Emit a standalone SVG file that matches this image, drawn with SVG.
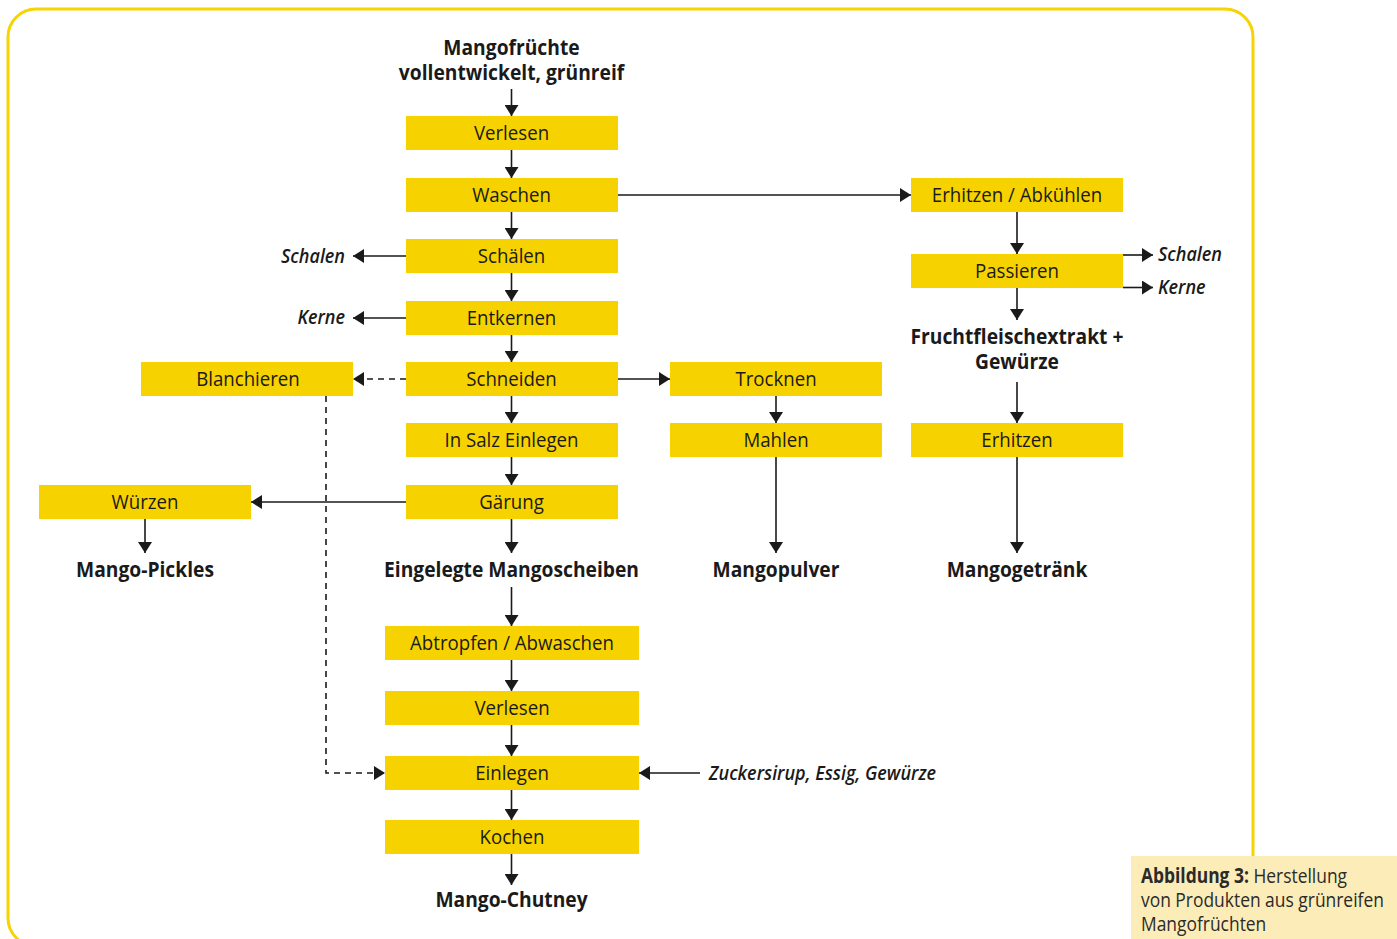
<svg xmlns="http://www.w3.org/2000/svg" width="1397" height="939" viewBox="0 0 1397 939">
  <defs>
    <style>
      .box { fill: #f6d200; }
      text { transform-box: fill-box; }
      .lbl { font-family: "Open Sans", "Liberation Sans", sans-serif; font-size: 20.5px; font-weight: 500; fill: #1a1a1a; text-anchor: middle; transform-origin: center; transform: scaleX(0.91); }
      .prod { font-family: "Open Sans", "Liberation Sans", sans-serif; font-size: 21.5px; font-weight: 700; fill: #1a1a1a; text-anchor: middle; transform-origin: center; transform: scaleX(0.895); }
      .side { font-family: "Open Sans", "Liberation Sans", sans-serif; font-size: 20.5px; font-weight: 600; font-style: italic; fill: #1a1a1a; transform-origin: left center; transform: scaleX(0.88); }
      .side.end { text-anchor: end; transform-origin: right center; }
      .cap { font-family: "Open Sans", "Liberation Sans", sans-serif; font-size: 20.5px; fill: #2a2a2a; transform-origin: left center; transform: scaleX(0.85); }
      .ln { stroke: #1a1a1a; stroke-width: 1.6; fill: none; }
      .dash { stroke-dasharray: 6 5; }
    </style>
    <marker id="arr" viewBox="0 0 11 14" refX="11" refY="7" markerWidth="11" markerHeight="14" markerUnits="userSpaceOnUse" orient="auto">
      <path d="M0,0 L11,7 L0,14 Z" fill="#1a1a1a"/>
    </marker>
  </defs>

  <!-- outer frame -->
  <rect x="8" y="9" width="1245" height="937" rx="28" ry="28" fill="#ffffff" stroke="#f7d300" stroke-width="3"/>

  <!-- connectors -->
  <g id="connectors" class="ln" marker-end="url(#arr)">
    <line x1="511.5" y1="89" x2="511.5" y2="116"/>
    <line x1="511.5" y1="150" x2="511.5" y2="178"/>
    <line x1="511.5" y1="212" x2="511.5" y2="239"/>
    <line x1="511.5" y1="273" x2="511.5" y2="301"/>
    <line x1="511.5" y1="335" x2="511.5" y2="362"/>
    <line x1="511.5" y1="396" x2="511.5" y2="423"/>
    <line x1="511.5" y1="457" x2="511.5" y2="485"/>
    <line x1="511.5" y1="519" x2="511.5" y2="553"/>
    <line x1="511.5" y1="587" x2="511.5" y2="626"/>
    <line x1="511.5" y1="660" x2="511.5" y2="691"/>
    <line x1="511.5" y1="725" x2="511.5" y2="756"/>
    <line x1="511.5" y1="790" x2="511.5" y2="820"/>
    <line x1="511.5" y1="854" x2="511.5" y2="885"/>
    <line x1="618" y1="195" x2="911" y2="195"/>
    <line x1="406" y1="256" x2="353" y2="256"/>
    <line x1="406" y1="318" x2="353" y2="318"/>
    <line x1="406" y1="379" x2="353" y2="379" class="ln dash"/>
    <line x1="618" y1="379" x2="670" y2="379"/>
    <polyline points="326,396 326,773 385,773" class="ln dash"/>
    <line x1="776" y1="396" x2="776" y2="423"/>
    <line x1="776" y1="457" x2="776" y2="553"/>
    <line x1="406" y1="502" x2="251" y2="502"/>
    <line x1="145" y1="519" x2="145" y2="553"/>
    <line x1="1017" y1="212" x2="1017" y2="254"/>
    <line x1="1123" y1="255" x2="1153" y2="255"/>
    <line x1="1123" y1="287.5" x2="1153" y2="287.5"/>
    <line x1="1017" y1="288" x2="1017" y2="320"/>
    <line x1="1017" y1="382" x2="1017" y2="423"/>
    <line x1="1017" y1="457" x2="1017" y2="553"/>
    <line x1="700" y1="773" x2="639" y2="773"/>
  </g>

  <!-- start / end products -->
  <g id="n-mangofruechte">
    <text class="prod" x="511.5" y="55">Mangofrüchte</text>
    <text class="prod" x="511.5" y="80">vollentwickelt, grünreif</text>
  </g>
  <g id="n-verlesen1"><rect class="box" x="406" y="116" width="212" height="34"/><text class="lbl" x="511.5" y="140">Verlesen</text></g>
  <g id="n-waschen"><rect class="box" x="406" y="178" width="212" height="34"/><text class="lbl" x="511.5" y="202">Waschen</text></g>
  <g id="n-schaelen"><rect class="box" x="406" y="239" width="212" height="34"/><text class="lbl" x="511.5" y="263">Schälen</text></g>
  <g id="n-entkernen"><rect class="box" x="406" y="301" width="212" height="34"/><text class="lbl" x="511.5" y="325">Entkernen</text></g>
  <g id="n-schneiden"><rect class="box" x="406" y="362" width="212" height="34"/><text class="lbl" x="511.5" y="386">Schneiden</text></g>
  <g id="n-salz"><rect class="box" x="406" y="423" width="212" height="34"/><text class="lbl" x="511.5" y="447">In Salz Einlegen</text></g>
  <g id="n-gaerung"><rect class="box" x="406" y="485" width="212" height="34"/><text class="lbl" x="511.5" y="509">Gärung</text></g>
  <g id="n-blanchieren"><rect class="box" x="141" y="362" width="212" height="34"/><text class="lbl" x="248" y="386">Blanchieren</text></g>
  <g id="n-trocknen"><rect class="box" x="670" y="362" width="212" height="34"/><text class="lbl" x="776" y="386">Trocknen</text></g>
  <g id="n-mahlen"><rect class="box" x="670" y="423" width="212" height="34"/><text class="lbl" x="776" y="447">Mahlen</text></g>
  <g id="n-wuerzen"><rect class="box" x="39" y="485" width="212" height="34"/><text class="lbl" x="145" y="509">Würzen</text></g>
  <g id="n-erhitzen-abk"><rect class="box" x="911" y="178" width="212" height="34"/><text class="lbl" x="1017" y="202">Erhitzen / Abkühlen</text></g>
  <g id="n-passieren"><rect class="box" x="911" y="254" width="212" height="34"/><text class="lbl" x="1017" y="278">Passieren</text></g>
  <g id="n-erhitzen"><rect class="box" x="911" y="423" width="212" height="34"/><text class="lbl" x="1017" y="447">Erhitzen</text></g>
  <g id="n-abtropfen"><rect class="box" x="385" y="626" width="254" height="34"/><text class="lbl" x="512" y="650">Abtropfen / Abwaschen</text></g>
  <g id="n-verlesen2"><rect class="box" x="385" y="691" width="254" height="34"/><text class="lbl" x="512" y="715">Verlesen</text></g>
  <g id="n-einlegen"><rect class="box" x="385" y="756" width="254" height="34"/><text class="lbl" x="512" y="780">Einlegen</text></g>
  <g id="n-kochen"><rect class="box" x="385" y="820" width="254" height="34"/><text class="lbl" x="512" y="844">Kochen</text></g>

  <g id="n-pickles"><text class="prod" x="145" y="577">Mango-Pickles</text></g>
  <g id="n-mangoscheiben"><text class="prod" x="511.5" y="577">Eingelegte Mangoscheiben</text></g>
  <g id="n-pulver"><text class="prod" x="776" y="577">Mangopulver</text></g>
  <g id="n-getraenk"><text class="prod" x="1017" y="577">Mangogetränk</text></g>
  <g id="n-extrakt">
    <text class="prod" x="1017" y="344">Fruchtfleischextrakt +</text>
    <text class="prod" x="1017" y="369">Gewürze</text>
  </g>
  <g id="n-chutney"><text class="prod" x="511.5" y="907">Mango-Chutney</text></g>

  <!-- side outputs and inputs -->
  <g id="n-schalen-l"><text class="side end" x="345" y="263">Schalen</text></g>
  <g id="n-kerne-l"><text class="side end" x="345" y="324">Kerne</text></g>
  <g id="n-schalen-r"><text class="side" x="1158" y="261">Schalen</text></g>
  <g id="n-kerne-r"><text class="side" x="1158" y="294">Kerne</text></g>
  <g id="n-zucker"><text class="side" x="709" y="780">Zuckersirup, Essig, Gewürze</text></g>

  <!-- caption -->
  <g id="caption">
    <rect x="1131" y="856" width="266" height="83" fill="#fcecb8"/>
    <text class="cap" x="1141" y="883"><tspan font-weight="700">Abbildung 3:</tspan> Herstellung</text>
    <text class="cap" x="1141" y="907">von Produkten aus grünreifen</text>
    <text class="cap" x="1141" y="931">Mangofrüchten</text>
  </g>
</svg>
